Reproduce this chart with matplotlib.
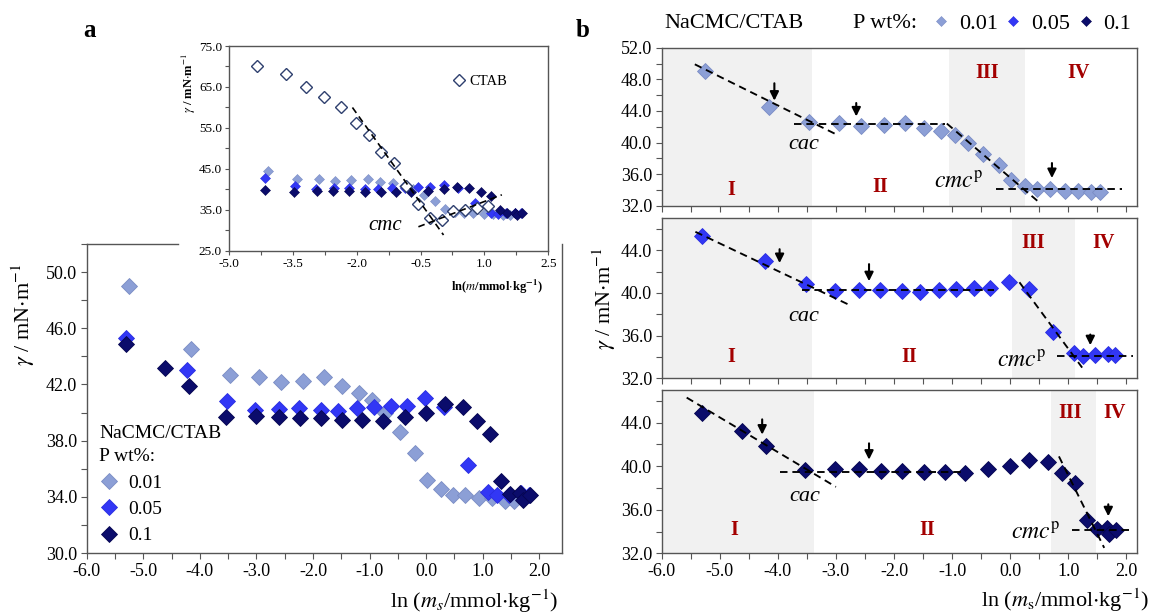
import matplotlib
matplotlib.use('Agg')
import matplotlib.pyplot as plt
from matplotlib.ticker import MultipleLocator, FixedLocator, FormatStrFormatter
from matplotlib.lines import Line2D

plt.rcParams['font.family'] = ['Liberation Serif', 'DejaVu Serif']
plt.rcParams['mathtext.fontset'] = 'stix'
plt.rcParams['axes.unicode_minus'] = False

# surface tension data, ln(m_s) vs gamma
x01 = [-5.26, -4.15, -3.46, -2.95, -2.56, -2.18, -1.81, -1.49, -1.19, -0.95, -0.72,
       -0.47, -0.20, 0.02, 0.26, 0.47, 0.69, 0.94, 1.16, 1.39, 1.55]
y01 = [49.0, 44.55, 42.65, 42.5, 42.15, 42.25, 42.5, 41.9, 41.4, 40.9, 39.95,
       38.6, 37.1, 35.2, 34.55, 34.15, 34.15, 33.9, 33.9, 33.7, 33.7]
x05 = [-5.31, -4.22, -3.52, -3.02, -2.60, -2.24, -1.86, -1.55, -1.22, -0.93, -0.63,
       -0.34, -0.02, 0.32, 0.74, 1.10, 1.26, 1.46, 1.68, 1.81]
y05 = [45.3, 43.0, 40.85, 40.15, 40.25, 40.3, 40.15, 40.1, 40.3, 40.4, 40.5,
       40.5, 41.05, 40.4, 36.3, 34.35, 34.1, 34.15, 34.3, 34.15]
x1 = [-5.31, -4.61, -4.20, -3.53, -3.01, -2.60, -2.23, -1.86, -1.49, -1.13, -0.77,
      -0.38, 0.0, 0.33, 0.65, 0.90, 1.12, 1.32, 1.49, 1.66, 1.71, 1.83]
y1 = [44.85, 43.2, 41.9, 39.65, 39.75, 39.7, 39.6, 39.6, 39.5, 39.5, 39.4,
      39.7, 40.0, 40.6, 40.4, 39.4, 38.5, 35.1, 34.2, 34.3, 33.8, 34.15]

# inset data (ln m scale)
ins_x01 = [-4.09, -3.41, -2.89, -2.51, -2.13, -1.74, -1.45, -1.14, -0.90, -0.67,
           -0.42, -0.15, 0.07, 0.31, 0.52, 0.74, 0.99, 1.21, 1.44, 1.60]
ins_y01 = [44.6, 42.6, 42.6, 42.1, 42.3, 42.6, 41.9, 41.5, 40.9, 40.0,
           38.6, 37.1, 35.2, 34.55, 34.15, 34.15, 33.9, 33.9, 33.7, 33.7]
ins_x05 = [-4.15, -3.45, -2.96, -2.54, -2.18, -1.80, -1.49, -1.16, -0.87, -0.57,
           -0.28, 0.04, 0.38, 0.78, 1.15, 1.31, 1.51, 1.73, 1.86]
ins_y05 = [42.9, 40.9, 40.15, 40.25, 40.3, 40.15, 40.1, 40.3, 40.4, 40.5,
           40.5, 41.05, 40.4, 36.6, 34.35, 34.1, 34.15, 34.3, 34.15]
ins_x1 = [-4.15, -3.47, -2.94, -2.55, -2.17, -1.81, -1.44, -1.08, -0.72, -0.33,
          0.05, 0.35, 0.64, 0.91, 1.15, 1.37, 1.54, 1.71, 1.76, 1.88]
ins_y1 = [39.9, 39.4, 39.6, 39.6, 39.6, 39.5, 39.5, 39.5, 39.4, 39.7,
          40.0, 40.7, 40.3, 39.3, 38.5, 35.1, 34.2, 34.3, 33.8, 34.15]
x_ctab = [-4.35, -3.67, -3.18, -2.76, -2.38, -2.02, -1.71, -1.44, -1.13, -0.83, -0.55,
          -0.28, 0.0, 0.27, 0.54, 0.82, 1.09]
y_ctab = [70.2, 68.2, 65.1, 62.6, 60.0, 56.1, 53.2, 49.2, 46.4, 40.9, 36.4,
          33.0, 32.6, 34.8, 35.0, 35.4, 36.0]
ctab_fits = [(-2.10, 60.0, 0.04, 28.9), (-0.55, 30.9, 1.41, 38.7)]

labels = ['0.01', '0.05', '0.1']
colors = ['#8c9fd6', '#3237f5', '#0b0c6b']
edges = ['#7a8cc4', '#2a2ee0', '#050550']

# panel b annotations: shaded regions, fitted lines, arrows, texts
b_shade = [[(-6, -3.41), (-1.05, 0.26)],
           [(-6, -3.42), (0.03, 1.12)],
           [(-6, -3.38), (0.70, 1.47)]]
b_fits = [[(-5.43, 49.9, -3.0, 41.05), (-3.73, 42.4, -1.12, 42.4), (-1.09, 42.4, 0.48, 32.55), (-0.25, 34.1, 1.92, 34.1)],
          [(-5.42, 45.73, -2.74, 38.8), (-3.58, 40.3, -0.28, 40.3), (0.16, 41.0, 1.24, 33.0), (0.81, 34.1, 2.11, 34.1)],
          [(-5.57, 46.3, -3.0, 38.1), (-3.97, 39.5, -0.77, 39.5), (0.84, 40.9, 1.62, 32.5), (1.06, 34.15, 2.08, 34.15)]]
b_arrows = [[(-4.06, 47.5, 45.3), (-2.65, 45.0, 43.3), (0.72, 37.4, 35.5)],
            [(-3.97, 44.1, 42.8), (-2.43, 42.7, 41.1), (1.38, 36.1, 35.1)],
            [(-4.27, 44.3, 42.9), (-2.43, 42.1, 40.6), (1.69, 36.5, 35.4)]]
b_cac = [(-3.55, 39.8), (-3.56, 37.8), (-3.53, 37.2)]
b_cmc = [(-0.88, 34.9), (0.19, 33.6), (0.44, 33.85)]
b_regions = [[(-4.8, 34.0), (-2.24, 34.4), (-0.4, 48.75), (1.17, 48.75)],
             [(-4.8, 34.0), (-1.73, 34.0), (0.39, 44.7), (1.6, 44.7)],
             [(-4.75, 34.15), (-1.42, 34.15), (1.03, 44.9), (1.80, 44.9)]]
region_names = ['I', 'II', 'III', 'IV']
b_ylims = [(32, 52), (32, 47), (32, 47)]

SPINE = '#555555'
TICK_FS = 13
DASH = (0, (4, 2.6))


def style_axes(ax, fs=TICK_FS):
    ax.xaxis.set_major_formatter(FormatStrFormatter('%.1f'))
    ax.yaxis.set_major_formatter(FormatStrFormatter('%.1f'))
    ax.tick_params(which='both', direction='out', length=4, width=0.8, color=SPINE,
                   labelsize=fs, top=False, right=False, pad=3)
    for s in ax.spines.values():
        s.set_color(SPINE)
        s.set_linewidth(1.0)


fig = plt.figure(figsize=(11.53, 6.15), dpi=100)

# ---- panel a ----
ax = fig.add_axes([0.0752, 0.1008, 0.4122, 0.5024])
for xs, ys, c, e, lab in zip([x01, x05, x1], [y01, y05, y1], colors, edges, labels):
    ax.plot(xs, ys, 'D', ms=8.5, color=c, mec=e, mew=0.6, ls='none', label=lab)
ax.set_xlim(-6, 2.4)
ax.set_ylim(30, 52)
ax.set_xticks(range(-6, 3))
ax.xaxis.set_minor_locator(MultipleLocator(0.5))
ax.set_yticks(range(30, 51, 4))
ax.yaxis.set_minor_locator(MultipleLocator(2))
style_axes(ax)
ax.spines['top'].set_bounds(-6, -4.38)
ax.set_xlabel(r'ln ($m_s$/mmol$\cdot$kg$^{-1}$)', fontsize=16, va='center', ha='right')
ax.xaxis.set_label_coords(0.992, -0.155)
fig.text(0.02, 0.488, r'$\gamma$ / mN$\cdot$m$^{-1}$', rotation=90, fontsize=16,
         ha='center', va='center')
leg = ax.legend(title='NaCMC/CTAB\nP wt%:', loc='upper left', bbox_to_anchor=(0.01, 0.44),
                frameon=False, fontsize=14, title_fontsize=14, handlelength=1.0,
                handletextpad=0.5, labelspacing=0.45, borderaxespad=0, alignment='left')
leg.get_title().set_linespacing(1.5)

# inset
axi = fig.add_axes([0.1986, 0.5919, 0.2769, 0.3333])
for xs, ys, c, e in zip([ins_x01, ins_x05, ins_x1], [ins_y01, ins_y05, ins_y1], colors, edges):
    axi.plot(xs, ys, 'D', ms=5.5, color=c, mec=e, mew=0.4, ls='none')
axi.plot(x_ctab, y_ctab, 'D', ms=6, mfc='white', mec='#2e3f6e', mew=1.0, ls='none', label='CTAB')
for x0, y0, x1_, y1_ in ctab_fits:
    axi.plot([x0, x1_], [y0, y1_], ls=DASH, color='k', lw=1.2)
axi.set_xlim(-5, 2.5)
axi.set_ylim(25, 75)
axi.set_xticks([-5, -3.5, -2, -0.5, 1, 2.5])
axi.xaxis.set_minor_locator(FixedLocator([-5 + 0.75 * k for k in range(11)]))
axi.set_yticks(range(25, 76, 10))
axi.yaxis.set_minor_locator(MultipleLocator(5))
style_axes(axi, fs=9.5)
axi.tick_params(which='both', length=3, pad=2)
axi.set_xlabel(r'ln($\mathbf{\mathit{m}}$/mmol$\cdot$kg$^{\mathbf{-1}}$)', fontsize=9,
               fontweight='bold', ha='right', va='center')
axi.xaxis.set_label_coords(0.983, -0.176)
axi.set_ylabel(r'$\gamma$ / mN$\cdot$m$^{-1}$', fontsize=9, fontweight='bold', va='center')
axi.yaxis.set_label_coords(-0.125, 0.82)
axi.text(-1.34, 31.3, 'cmc', style='italic', fontsize=15, ha='center', va='center')
axi.legend(loc='center left', bbox_to_anchor=(0.68, 0.826), frameon=False, fontsize=10.5,
           handlelength=1.0, handletextpad=0.2, borderaxespad=0)

# ---- panel b ----
b_boxes = [[0.5739, 0.6655, 0.4125, 0.2569],
           [0.5739, 0.3849, 0.4125, 0.2602],
           [0.5739, 0.1003, 0.4125, 0.2656]]
b_data = [(x01, y01), (x05, y05), (x1, y1)]
for i in range(3):
    bx = fig.add_axes(b_boxes[i])
    xs, ys = b_data[i]
    for a0, a1 in b_shade[i]:
        bx.axvspan(a0, a1, color='#f1f1f1', lw=0, zorder=0)
    for x0, y0, x1_, y1_ in b_fits[i]:
        bx.plot([x0, x1_], [y0, y1_], ls=DASH, color='k', lw=1.35, zorder=3)
    bx.plot(xs, ys, 'D', ms=8.5, color=colors[i], mec=edges[i], mew=0.6, ls='none', zorder=2)
    for ax_, y_top, y_bot in b_arrows[i]:
        bx.annotate('', xy=(ax_, y_bot), xytext=(ax_, y_top),
                    arrowprops=dict(arrowstyle='-|>', color='k', lw=1.5, mutation_scale=13,
                                    shrinkA=0, shrinkB=0))
    bx.text(*b_cac[i], 'cac', style='italic', fontsize=16, ha='center', va='center')
    bx.text(*b_cmc[i], r'$\mathit{cmc}^{\mathrm{p}}$', fontsize=17, ha='center', va='center')
    for (tx, ty), name in zip(b_regions[i], region_names):
        bx.text(tx, ty, name, color='#a30000', fontweight='bold', fontsize=14.5,
                ha='center', va='center')
    bx.set_xlim(-6, 2.19)
    bx.set_ylim(*b_ylims[i])
    bx.set_xticks(range(-6, 3))
    bx.xaxis.set_minor_locator(MultipleLocator(0.5))
    bx.set_yticks(range(32, b_ylims[i][1] + 1, 4))
    bx.yaxis.set_minor_locator(MultipleLocator(2))
    style_axes(bx)
    if i < 2:
        bx.tick_params(axis='x', labelbottom=False)
    if i == 1:
        bx.set_ylabel(r'$\gamma$ / mN$\cdot$m$^{-1}$', fontsize=16, labelpad=2)
    if i == 2:
        bx.set_xlabel(r'ln ($m_\mathrm{s}$/mmol$\cdot$kg$^{-1}$)', fontsize=16,
                      ha='right', va='center')
        bx.xaxis.set_label_coords(1.025, -0.29)

# panel b legend on top
fig.text(0.5759, 0.962, 'NaCMC/CTAB', fontsize=16, va='center', ha='left')
fig.text(0.7396, 0.962, 'P wt%:', fontsize=16, va='center', ha='left')
handles = [Line2D([], [], marker='D', ls='none', ms=5, color=c, mec=e, mew=0.4)
           for c, e in zip(colors, edges)]
fig.legend(handles, labels, loc='center left', bbox_to_anchor=(0.8083, 0.962), ncol=3,
           frameon=False, fontsize=16, handlelength=0.8, handletextpad=0.4,
           columnspacing=0.3, borderaxespad=0, borderpad=0)

fig.text(0.078, 0.951, 'a', fontsize=18, fontweight='bold', ha='center', va='center')
fig.text(0.505, 0.951, 'b', fontsize=18, fontweight='bold', ha='center', va='center')

fig.savefig('out.png', dpi=100)
